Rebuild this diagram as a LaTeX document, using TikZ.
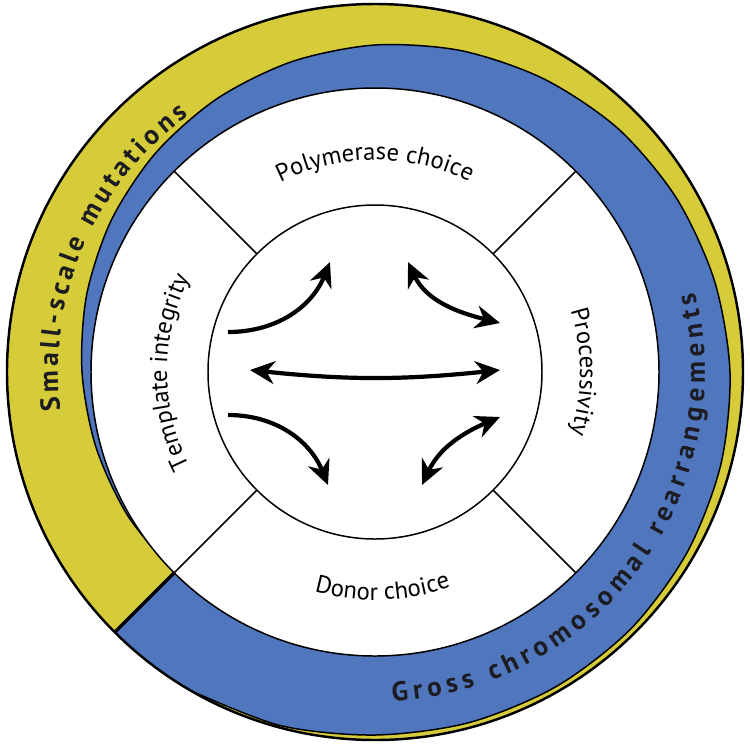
\documentclass[tikz,border=0pt]{standalone}
\usepackage{fontspec}
\setmainfont{PT Sans}
\usetikzlibrary{arrows.meta,decorations.text}

\definecolor{ringyellow}{RGB}{214,204,58}
\definecolor{ringblue}{RGB}{80,118,190}
\definecolor{inkdark}{RGB}{28,28,34}

\newcommand\sectorfont{\fontsize{14}{16}\selectfont}
\newcommand\ringfont{\bfseries\fontsize{15.5}{18}\selectfont}
% yellow/blue boundary, one point every 15 degrees
\newcommand\spiralpts{(225:284) (210:286) (195:289) (180:293) (165:298.5) (150:304.3) (135:310) (120:315.7) (105:321.3) (90:327) (75:332.7) (60:338.3) (45:344) (30:348) (15:351.5) (0:355) (-15:358) (-30:360.5) (-45:362.5) (-60:363) (-75:363) (-90:363) (-105:366) (-120:368)}

\begin{document}
\begin{tikzpicture}[
  x=0.02cm, y=0.02cm,
  rim/.style={draw=black, line width=1.4pt},
  thinline/.style={draw=black, line width=0.85pt},
  oneway/.style={-{Stealth[length=14pt,width=13pt,inset=4.5pt]}, line width=2.4pt},
  twoway/.style={{Stealth[length=14pt,width=13pt,inset=4.5pt]}-{Stealth[length=14pt,width=13pt,inset=4.5pt]}, line width=2.4pt},
  ringtext/.style={decorate, decoration={text along path, text align={fit to path}, text color=inkdark}},
  sectortext/.style={decorate, decoration={text along path, text align=center}}]

\useasboundingbox (-375,-373) rectangle (375,372);

% Outer band: yellow disc with the blue spiral on top
\fill[ringyellow] (0,0) circle[radius=368];
\begin{scope}
  \clip (0,0) circle[radius=368];
  \fill[ringblue] plot[smooth, tension=0.5] coordinates {\spiralpts}
    arc[start angle=-120, end angle=-135, radius=368] -- cycle;
  \draw[thinline] plot[smooth, tension=0.5] coordinates {\spiralpts};
\end{scope}
\draw[line width=2pt] (225:284) -- (225:368);
\draw[rim] (0,0) circle[radius=368];

% White disc with the four sectors
\fill[white] (0,0) circle[radius=284];
\draw[thinline] (0,0) circle[radius=284];
\draw[thinline] (0,0) circle[radius=167];
\foreach \a in {45,135,225,315}
  \draw[thinline] (\a:167) -- (\a:284);

% Band labels
\path[ringtext, decoration={text={|\ringfont|Small-scale mutations}}]
  (187:317) arc[start angle=187, end angle=126, radius=317];
\path[ringtext, decoration={text={|\ringfont|Gross chromosomal rearrangements}}]
  (-87:330) arc[start angle=-87, end angle=14, radius=330];

% Sector labels
\path[sectortext, decoration={text={|\sectorfont|Polymerase choice}}]
  (150:212) arc[start angle=150, end angle=30, radius=212];
\path[sectortext, decoration={text={|\sectorfont|Processivity}}]
  (60:205) arc[start angle=60, end angle=-60, radius=205];
\path[sectortext, decoration={text={|\sectorfont|Template integrity}}]
  (240:208) arc[start angle=240, end angle=120, radius=208];
\path[sectortext, decoration={text={|\sectorfont|Donor choice}}]
  (212:228) arc[start angle=212, end angle=332, radius=228];

% Arrows in the centre
\coordinate (ulstart) at (-147,40);
\coordinate (ulend) at (-45,110);
\coordinate (urtip) at (33,110);
\coordinate (urend) at (125,49);
\coordinate (midl) at (-125,2);
\coordinate (midr) at (125,2);
\coordinate (llstart) at (-147,-43);
\coordinate (llend) at (-47,-113);
\coordinate (lrtip) at (47,-113);
\coordinate (lrend) at (125,-45);

\draw[oneway] (ulstart) to[out=0,in=-112] (ulend);
\draw[twoway] (urtip) to[out=-65,in=166] (urend);
\draw[twoway] (midl) to[bend right=6] (midr);
\draw[oneway] (llstart) to[out=0,in=112] (llend);
\draw[twoway] (lrtip) to[out=65,in=203] (lrend);

\end{tikzpicture}
\end{document}
